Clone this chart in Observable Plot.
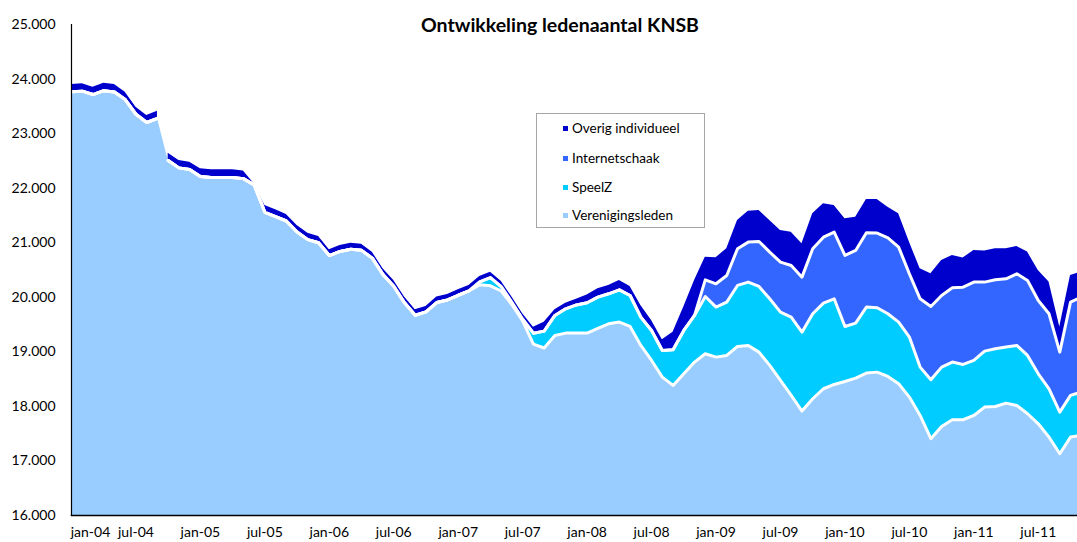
<!DOCTYPE html>
<html>
<head>
<meta charset="utf-8">
<script src="https://cdn.jsdelivr.net/npm/d3@7"></script>
<script src="https://cdn.jsdelivr.net/npm/@observablehq/plot@0.6"></script>
<style>
  body { margin: 0; background: #fff; font-family: Lato, "Open Sans", sans-serif; }
  #wrap { position: relative; width: 1077px; height: 542px; overflow: hidden; }
  #title { position: absolute; left: 560px; top: 13px; transform: translateX(-50%); white-space: nowrap;
           font-weight: bold; font-size: 19.5px; color: #000; }
  #legend { position: absolute; left: 536px; top: 113px; width: 169px; height: 115px; box-sizing: border-box;
            border: 1px solid #a6a6a6; background: #fff; }
  .item { position: absolute; left: 26px; height: 16px; line-height: 16px; font-size: 13.5px; color: #000; white-space: nowrap; }
  .sw { display: inline-block; width: 5px; height: 5px; margin-right: 4px; vertical-align: middle; position: relative; top: -1px; }
</style>
</head>
<body>
<div id="wrap">
  <div id="chart"></div>
  <div id="title"></div>
  <div id="legend"></div>
</div>
<script>
// ---- data (monthly, jan-04 ... nov-11) ----
const verenigingsleden = [
  23767,23778,23716,23787,23762,23625,23355,23204,23280,22506,22372,22342,
  22215,22197,22197,22197,22175,22060,21558,21479,21398,21196,21057,20999,
  20765,20840,20882,20860,20717,20415,20203,19898,19671,19732,19903,19951,
  20037,20116,20231,20210,20115,19863,19567,19142,19070,19300,19343,19343,
  19343,19430,19514,19545,19465,19117,18842,18537,18384,18598,18812,18964,
  18903,18934,19099,19117,18995,18751,18476,18201,17914,18140,18323,18402,
  18457,18518,18610,18628,18549,18415,18170,17834,17407,17633,17755,17755,
  17834,17987,17999,18060,18017,17865,17681,17437,17132,17437,17468
];
const speelZ = [
  0,0,0,0,0,0,0,0,0,0,0,0,
  0,0,0,0,0,0,0,0,0,0,0,0,
  0,0,0,0,0,0,0,0,0,0,0,0,
  0,0,50,150,80,40,30,200,310,367,446,517,
  557,573,550,592,568,519,550,488,654,794,855,1051,
  917,977,1118,1161,1203,1221,1252,1435,1447,1557,1570,1570,
  1008,1008,1210,1179,1148,1130,1100,886,1081,1087,1057,1014,
  1008,1026,1057,1027,1100,1069,917,886,763,764,794
];
const internetschaak = [
  0,0,0,0,0,0,0,0,0,0,0,0,
  0,0,0,0,0,0,0,0,0,0,0,0,
  0,0,0,0,0,0,0,0,0,0,0,0,
  0,0,0,0,0,0,0,0,0,0,0,0,
  0,0,0,0,0,0,0,0,0,0,0,305,
  427,489,672,733,825,856,916,947,1008,1192,1209,1222,
  1302,1332,1362,1369,1393,1374,1160,1252,1344,1313,1362,1417,
  1436,1265,1264,1252,1313,1374,1344,1374,1100,1710,1741
];
const overig = [
  133,135,135,138,138,135,130,128,130,135,135,135,
  140,140,140,140,138,20,125,125,120,120,118,115,
  105,110,110,110,110,108,105,105,100,100,100,100,
  100,100,100,100,100,100,100,110,164,104,103,106,
  140,153,153,171,165,214,183,196,323,428,641,416,
  477,489,519,568,568,580,581,611,611,641,611,489,
  671,611,611,617,562,611,581,550,598,642,592,532,
  580,568,569,550,501,520,550,581,458,489,458
];
const seriesNames = ["Overig individueel", "Internetschaak", "SpeelZ", "Verenigingsleden"];
const seriesColors = ["#0000CC", "#3366FF", "#00CCFF", "#99CCFF"];
const xTickIndex = [0,6,12,18,24,30,36,42,48,54,60,66,72,78,84,90];
const xTickLabels = ["jan-04","jul-04","jan-05","jul-05","jan-06","jul-06","jan-07","jul-07",
                     "jan-08","jul-08","jan-09","jul-09","jan-10","jul-10","jan-11","jul-11"];
const yTicks = [16000,17000,18000,19000,20000,21000,22000,23000,24000,25000];
const gapAfter = 8; // upper layers are missing between aug-04 and sep-04

// ---- build rows ----
const rows = verenigingsleden.map((v, i) => {
  const s = speelZ[i], it = internetschaak[i], o = overig[i];
  return { m: i, seg: i <= gapAfter ? "a" : "b", v1: v, s1: v + s, i1: v + s + it, t: v + s + it + o };
});
const labelOf = i => xTickLabels[xTickIndex.indexOf(i)];
const fmt = d => d3.format(",")(d).replace(/,/g, ".");

const chart = Plot.plot({
  width: 1077,
  height: 542,
  marginLeft: 71,
  marginRight: 0,
  marginTop: 24,
  marginBottom: 27,
  style: { fontFamily: "Lato, 'Open Sans', sans-serif", fontSize: "14px", color: "#000", background: "#fff" },
  x: { domain: [0, 93.65] },
  y: { domain: [16000, 25000] },
  marks: [
    Plot.areaY(rows, { x: "m", y1: 0, y2: "v1", fill: seriesColors[3], clip: true }),
    Plot.areaY(rows, { x: "m", y1: "v1", y2: "s1", z: "seg", fill: seriesColors[2], clip: true }),
    Plot.areaY(rows, { x: "m", y1: "s1", y2: "i1", z: "seg", fill: seriesColors[1], clip: true }),
    Plot.areaY(rows, { x: "m", y1: "i1", y2: "t", z: "seg", fill: seriesColors[0], clip: true }),
    Plot.lineY(rows, { x: "m", y: "v1", z: "seg", stroke: "white", strokeWidth: 3, clip: true }),
    Plot.lineY(rows, { x: "m", y: "s1", z: "seg", stroke: "white", strokeWidth: 3, clip: true }),
    Plot.lineY(rows, { x: "m", y: "i1", z: "seg", stroke: "white", strokeWidth: 3, clip: true }),
    Plot.frame({ anchor: "left", stroke: "#000", strokeWidth: 1.2 }),
    Plot.frame({ anchor: "bottom", stroke: "#000", strokeWidth: 1.5 }),
    Plot.axisY({ ticks: yTicks, tickSize: 0, tickPadding: 16, tickFormat: fmt, label: null, fontSize: 14 }),
    Plot.axisX({ ticks: xTickIndex.slice(1), tickSize: 0, tickPadding: 12, tickFormat: labelOf, label: null, fontSize: 14 }),
    Plot.axisX({ ticks: xTickIndex.slice(0, 1), tickSize: 0, tickPadding: 12, tickFormat: labelOf, label: null, fontSize: 14, dx: 19 })
  ]
});
document.getElementById("chart").appendChild(chart);

document.getElementById("title").textContent = "Ontwikkeling ledenaantal KNSB";
const legend = document.getElementById("legend");
const rowTops = [6, 36, 65, 93];
seriesNames.forEach((name, k) => {
  const d = document.createElement("div");
  d.className = "item";
  d.style.top = rowTops[k] + "px";
  const sw = document.createElement("span");
  sw.className = "sw";
  sw.style.background = seriesColors[k];
  d.appendChild(sw);
  d.appendChild(document.createTextNode(name));
  legend.appendChild(d);
});
</script>
</body>
</html>
